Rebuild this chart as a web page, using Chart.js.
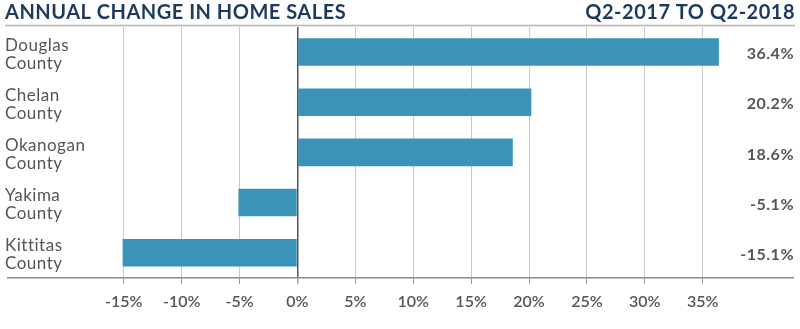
<!DOCTYPE html>
<html>
<head>
<meta charset="utf-8">
<script src="https://cdn.jsdelivr.net/npm/chart.js@4"></script>
<style>
  html, body { margin: 0; padding: 0; background: #fff; }
  #wrap { position: relative; width: 800px; height: 329px; }
  canvas { display: block; }
</style>
</head>
<body>
<div id="wrap"><canvas id="chart" width="800" height="329"></canvas></div>
<script>
// Chart content
const titleLeft = 'ANNUAL CHANGE IN HOME SALES';
const titleRight = 'Q2-2017 TO Q2-2018';
const counties = [['Douglas', 'County'], ['Chelan', 'County'], ['Okanogan', 'County'], ['Yakima', 'County'], ['Kittitas', 'County']];
const changePct = [36.4, 20.2, 18.6, -5.1, -15.1];
const tickValues = [-15, -10, -5, 0, 5, 10, 15, 20, 25, 30, 35];

const NAVY = '#1d3a5e';
const TEXT = '#555555';
const BAR = '#3b93b8';

// Title row and per-bar text drawn on the canvas
const decorations = {
  id: 'decorations',
  afterDraw(chart) {
    const ctx = chart.ctx;
    const y = chart.scales.y;
    ctx.save();
    // header
    ctx.fillStyle = NAVY;
    ctx.font = 'bold 20px Lato';
    ctx.letterSpacing = '0.5px';
    ctx.textBaseline = 'middle';
    ctx.textAlign = 'left';
    ctx.fillText(titleLeft, 5, 13);
    ctx.textAlign = 'right';
    ctx.fillText(titleRight, 795, 13);
    // rule beneath header
    ctx.strokeStyle = '#b5b5b5';
    ctx.lineWidth = 1.5;
    ctx.beginPath();
    ctx.moveTo(5, 25.5);
    ctx.lineTo(795, 25.5);
    ctx.stroke();
    // category names and values
    counties.forEach((lines, i) => {
      const cy = y.getPixelForValue(i);
      ctx.fillStyle = TEXT;
      ctx.font = '17px Lato';
      ctx.letterSpacing = '0.5px';
      ctx.textAlign = 'left';
      ctx.fillText(lines[0], 5, cy - 7);
      ctx.fillText(lines[1], 5, cy + 11);
      ctx.font = 'bold 16px Lato';
      ctx.letterSpacing = '0.5px';
      ctx.textAlign = 'right';
      const v = changePct[i];
      ctx.fillText(v.toFixed(1) + '%', 794, cy + 2);
    });
    ctx.restore();
  }
};

new Chart(document.getElementById('chart'), {
  type: 'bar',
  data: {
    labels: counties.map(c => c.join(' ')),
    datasets: [{
      data: changePct,
      backgroundColor: BAR,
      barPercentage: 0.55,
      categoryPercentage: 1.0
    }]
  },
  options: {
    indexAxis: 'y',
    responsive: false,
    animation: false,
    devicePixelRatio: 1,
    layout: { padding: { left: 8, right: 7, top: 27, bottom: 10 } },
    plugins: { legend: { display: false }, tooltip: { enabled: false } },
    scales: {
      x: {
        min: -25,
        max: 42.8,
        afterBuildTicks(scale) {
          scale.ticks = tickValues.map(v => ({ value: v }));
        },
        grid: {
          color: ctx => (ctx.tick && ctx.tick.value === 0) ? '#555555' : '#c9c9c9',
          lineWidth: ctx => (ctx.tick && ctx.tick.value === 0) ? 1.5 : 1,
          tickColor: '#9a9a9a',
          tickLength: 6,
          drawTicks: true
        },
        border: { color: '#8a8a8a', width: 1.5 },
        ticks: {
          color: TEXT,
          font: { family: 'Lato', size: 16, weight: '600' },
          padding: 8,
          autoSkip: false,
          maxRotation: 0,
          minRotation: 0,
          callback: v => v + '%'
        }
      },
      y: {
        display: false,
        grid: { display: false }
      }
    }
  },
  plugins: [decorations]
});
</script>
</body>
</html>
